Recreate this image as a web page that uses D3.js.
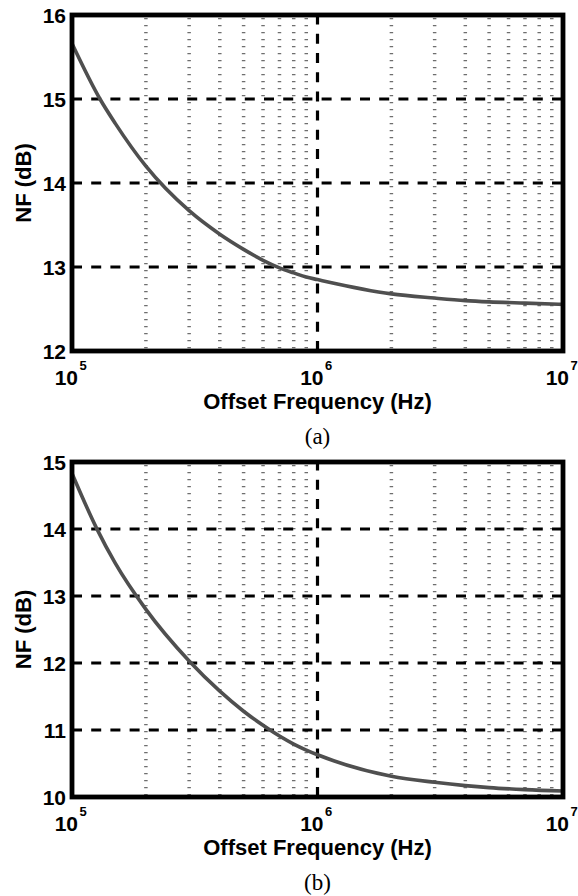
<!DOCTYPE html>
<html><head><meta charset="utf-8">
<script src="https://cdn.jsdelivr.net/npm/d3@7"></script>
<style>body{margin:0;background:#fff}svg{display:block}</style></head>
<body><svg id="c" width="578" height="896"></svg>
<script>
// ---- data ----
const freqA = [1e5, 1.3e5, 1.5e5, 2e5, 3e5, 4e5, 5e5, 6e5, 7e5, 8e5, 9e5, 1e6, 2e6, 3e6, 4e6, 5e6, 7e6, 1e7];
const nfA   = [15.66, 15.0, 14.71, 14.20, 13.67, 13.39, 13.21, 13.08, 12.99, 12.93, 12.88, 12.85, 12.68, 12.63, 12.60, 12.585, 12.57, 12.555];
const freqB = [1e5, 1.26e5, 1.5e5, 2e5, 3e5, 4e5, 5e5, 6e5, 7e5, 8e5, 9e5, 1e6, 2e6, 3e6, 4e6, 5e6, 7e6, 1e7];
const nfB   = [14.83, 14.01, 13.49, 12.80, 12.03, 11.58, 11.28, 11.07, 10.91, 10.79, 10.70, 10.63, 10.31, 10.22, 10.17, 10.14, 10.11, 10.09];
const yTicksA = [12, 13, 14, 15, 16];
const yTicksB = [10, 11, 12, 13, 14, 15];
const xTickExps = [5, 6, 7];
const xDomain = [1e5, 1e7];
const xLabel = "Offset Frequency (Hz)";
const yLabel = "NF (dB)";
const captions = ["(a)", "(b)"];

const svg = d3.select("#c");
const L = 72, R = 563;
const x = d3.scaleLog().domain(xDomain).range([L, R]);

function panel(top, bottom, freq, nf, yTicks, caption) {
  const g = svg.append("g");
  const y = d3.scaleLinear().domain([yTicks[0], yTicks[yTicks.length - 1]]).range([bottom, top]);

  // minor vertical grid (dotted)
  const minors = [];
  for (let e = xTickExps[0]; e < xTickExps[xTickExps.length - 1]; e++)
    for (let k = 2; k <= 9; k++) minors.push(k * Math.pow(10, e));
  g.selectAll("line.minor").data(minors).enter().append("line")
    .attr("x1", d => x(d)).attr("x2", d => x(d))
    .attr("y1", top + 3).attr("y2", bottom)
    .attr("stroke", "#6e6e6e").attr("stroke-width", 3.5)
    .attr("stroke-dasharray", "1.3,5.7");

  // major grid
  const majX = xTickExps.slice(1, -1).map(e => Math.pow(10, e));
  g.selectAll("line.majx").data(majX).enter().append("line")
    .attr("x1", d => x(d)).attr("x2", d => x(d))
    .attr("y1", bottom).attr("y2", top)
    .attr("stroke", "#000").attr("stroke-width", 3.2)
    .attr("stroke-dasharray", "10,9.2");
  g.selectAll("line.majy").data(yTicks.slice(1, -1)).enter().append("line")
    .attr("x1", L).attr("x2", R)
    .attr("y1", d => y(d)).attr("y2", d => y(d))
    .attr("stroke", "#000").attr("stroke-width", 3.2)
    .attr("stroke-dasharray", "10,9.2");

  // curve
  const line = d3.line().x((d, i) => x(freq[i])).y(d => y(d)).curve(d3.curveMonotoneX);
  g.append("path").attr("d", line(nf))
    .attr("fill", "none").attr("stroke", "#4f4f4f").attr("stroke-width", 3.6);

  // frame
  g.append("rect").attr("x", L).attr("y", top).attr("width", R - L).attr("height", bottom - top)
    .attr("fill", "none").attr("stroke", "#000").attr("stroke-width", 4.8);

  // y tick labels
  g.selectAll("text.yt").data(yTicks).enter().append("text")
    .attr("x", L - 6).attr("y", d => y(d)).attr("dy", "0.36em")
    .attr("text-anchor", "end")
    .style("font", "bold 21px 'Liberation Sans', Arial, sans-serif")
    .text(d => d);

  // x tick labels 10^e
  xTickExps.forEach(e => {
    const px = x(Math.pow(10, e));
    g.append("text").attr("x", px + 6).attr("y", bottom + 34)
      .attr("text-anchor", "end")
      .style("font", "bold 21px 'Liberation Sans', Arial, sans-serif")
      .text("10");
    g.append("text").attr("x", px + 7.5).attr("y", bottom + 19)
      .attr("text-anchor", "start")
      .style("font", "bold 13px 'Liberation Sans', Arial, sans-serif")
      .text(e);
  });

  // axis labels
  g.append("text").attr("x", (L + R) / 2).attr("y", bottom + 58)
    .attr("text-anchor", "middle")
    .style("font", "bold 22px 'Liberation Sans', Arial, sans-serif")
    .text(xLabel);
  const cy = (top + bottom) / 2;
  g.append("text").attr("transform", `translate(31,${cy}) rotate(-90)`)
    .attr("text-anchor", "middle")
    .style("font", "bold 22px 'Liberation Sans', Arial, sans-serif")
    .text(yLabel);

  // caption
  g.append("text").attr("x", (L + R) / 2).attr("y", bottom + 93)
    .attr("text-anchor", "middle")
    .style("font", "23px 'Liberation Serif', 'Times New Roman', serif")
    .text(caption);
}

panel(15, 351, freqA, nfA, yTicksA, captions[0]);
panel(462, 797, freqB, nfB, yTicksB, captions[1]);
</script>
</body></html>
